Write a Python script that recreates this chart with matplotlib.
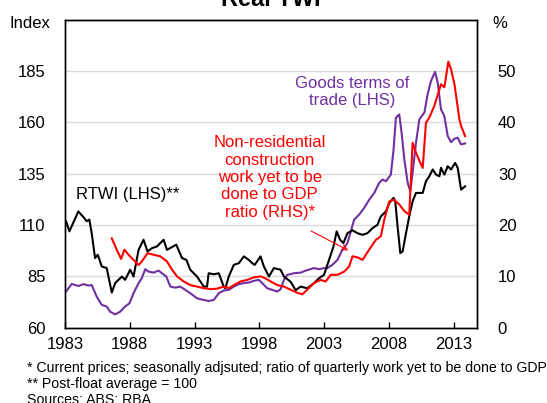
import matplotlib
matplotlib.use("Agg")
import matplotlib.pyplot as plt

plt.rcParams['font.family'] = ['Liberation Sans', 'DejaVu Sans']

# ---- data ----
rtwi_year = [1983.08, 1983.34, 1984.03, 1984.37, 1984.68, 1984.88, 1985.06, 1985.32, 1985.53, 1985.84,
             1986.22, 1986.61, 1986.87, 1987.39, 1987.64, 1988.03, 1988.29, 1988.68, 1989.06, 1989.37,
             1989.71, 1990.09, 1990.61, 1990.87, 1991.59, 1992.03, 1992.37, 1992.67, 1993.19, 1993.71,
             1993.96, 1994.09, 1994.48, 1994.87, 1995.25, 1995.38, 1995.64, 1996.03, 1996.42, 1996.80,
             1997.19, 1997.45, 1997.65, 1998.09, 1998.35, 1998.74, 1999.12, 1999.64, 1999.90, 2000.41,
             2000.80, 2001.19, 2001.70, 2002.22, 2002.61, 2002.99, 2003.38, 2003.72, 2003.97, 2004.23,
             2004.49, 2004.80, 2005.19, 2005.57, 2005.96, 2006.35, 2006.74, 2007.12, 2007.38, 2007.77,
             2008.03, 2008.36, 2008.49, 2008.67, 2008.88, 2009.06, 2009.32, 2009.57, 2009.83, 2010.09,
             2010.35, 2010.61, 2010.86, 2011.12, 2011.38, 2011.64, 2011.90, 2012.02, 2012.28, 2012.54,
             2012.80, 2013.11, 2013.31, 2013.57, 2013.88]
rtwi_val = [111.8, 106.9, 116.6, 114.2, 111.8, 112.6, 106.0, 93.9, 95.5, 89.8,
            89.0, 77.1, 81.7, 84.9, 83.3, 88.2, 84.9, 97.9, 102.8, 97.1,
            98.7, 99.5, 102.8, 97.9, 100.4, 93.9, 93.0, 88.2, 84.9, 80.0,
            80.0, 86.5, 86.0, 86.5, 80.0, 79.2, 84.9, 90.6, 91.4, 94.7,
            93.0, 91.4, 90.6, 94.7, 89.8, 84.9, 89.0, 88.2, 84.9, 82.4,
            78.3, 80.0, 79.2, 81.7, 84.1, 85.7, 93.0, 99.5, 106.9, 102.8,
            101.2, 106.0, 107.4, 106.0, 105.2, 106.0, 108.5, 110.1, 114.2, 116.6,
            120.7, 123.2, 121.5, 109.3, 96.3, 97.1, 106.0, 114.2, 121.5, 125.6,
            125.6, 125.6, 131.3, 133.7, 137.0, 134.5, 133.7, 137.8, 134.5, 138.6,
            137.0, 140.2, 137.8, 127.2, 128.8]

tot_year = [1983.08, 1983.52, 1984.03, 1984.42, 1984.81, 1985.06, 1985.45, 1985.84, 1986.22, 1986.48,
            1986.87, 1987.26, 1987.64, 1987.98, 1988.29, 1988.68, 1988.93, 1989.19, 1989.45, 1989.84,
            1990.22, 1990.48, 1990.82, 1991.13, 1991.51, 1991.90, 1992.29, 1992.67, 1993.19, 1993.71,
            1994.09, 1994.48, 1994.87, 1995.25, 1995.64, 1996.03, 1996.42, 1996.80, 1997.19, 1997.58,
            1997.96, 1998.22, 1998.61, 1999.00, 1999.38, 1999.64, 1999.90, 2000.15, 2000.67, 2001.19,
            2001.58, 2001.96, 2002.22, 2002.61, 2002.99, 2003.25, 2003.64, 2004.03, 2004.41, 2004.80,
            2005.32, 2005.70, 2006.09, 2006.48, 2006.87, 2007.25, 2007.51, 2007.77, 2008.15, 2008.36,
            2008.54, 2008.80, 2008.98, 2009.19, 2009.45, 2009.65, 2009.83, 2010.09, 2010.35, 2010.74,
            2010.99, 2011.25, 2011.56, 2011.77, 2012.02, 2012.28, 2012.54, 2012.80, 2013.06, 2013.31,
            2013.57, 2013.88]
tot_val = [77.6, 81.3, 80.3, 81.2, 80.5, 80.8, 75.1, 71.1, 70.3, 67.8,
           66.5, 67.8, 70.3, 71.9, 76.8, 81.7, 84.1, 88.5, 87.3, 86.8,
           87.8, 86.5, 84.9, 80.0, 79.5, 80.0, 78.4, 76.8, 74.3, 73.5,
           73.0, 73.5, 76.8, 78.1, 78.4, 80.0, 81.2, 81.7, 82.0, 82.8,
           83.3, 81.7, 79.2, 78.4, 77.6, 78.7, 83.3, 85.7, 86.5, 86.8,
           87.8, 88.5, 89.0, 88.5, 89.0, 89.0, 90.6, 93.0, 97.9, 101.2,
           112.6, 115.0, 118.3, 122.3, 125.6, 130.5, 132.1, 131.3, 134.5, 146.7,
           162.2, 163.8, 154.9, 141.9, 130.5, 126.4, 135.3, 150.0, 161.4, 164.7,
           173.6, 180.1, 184.5, 179.3, 166.3, 163.0, 153.3, 150.3, 152.0, 152.5,
           149.2, 149.7]

nres_year = [1986.61, 1986.99, 1987.33, 1987.59, 1987.90, 1988.29, 1988.68, 1988.93, 1989.37, 1989.84,
             1990.35, 1990.87, 1991.26, 1991.64, 1992.16, 1992.67, 1993.19, 1993.71, 1994.22, 1994.74,
             1995.25, 1995.64, 1996.03, 1996.54, 1997.06, 1997.58, 1998.09, 1998.48, 1998.87, 1999.38,
             1999.90, 2000.41, 2000.93, 2001.32, 2001.70, 2002.22, 2002.74, 2003.12, 2003.51, 2004.03,
             2004.54, 2004.93, 2005.19, 2005.57, 2005.96, 2006.22, 2006.48, 2006.99, 2007.38, 2007.64,
             2008.03, 2008.41, 2008.80, 2009.19, 2009.57, 2009.83, 2010.09, 2010.35, 2010.61, 2010.86,
             2011.12, 2011.51, 2012.02, 2012.28, 2012.59, 2012.80, 2013.06, 2013.44, 2013.57, 2013.88]
nres_val = [17.4, 15.2, 13.4, 15.2, 14.2, 13.2, 12.2, 12.9, 14.5, 14.2,
            13.9, 12.9, 11.3, 10.0, 9.0, 8.3, 8.0, 7.7, 7.5, 7.6,
            8.0, 7.7, 8.3, 9.0, 9.3, 9.8, 10.0, 9.6, 9.0, 8.3,
            8.0, 7.4, 6.8, 6.5, 7.4, 8.7, 9.3, 9.0, 10.3, 10.3,
            10.9, 11.9, 13.9, 13.7, 13.2, 14.2, 15.2, 17.1, 17.8, 21.0,
            24.6, 24.9, 24.0, 22.7, 22.0, 36.0, 34.1, 32.5, 31.1, 39.9,
            40.9, 43.2, 47.4, 46.8, 51.8, 50.3, 47.4, 40.6, 39.3, 37.3]

year_ticks = [1983, 1988, 1993, 1998, 2003, 2008, 2013]
left_ticks = [60, 85, 110, 135, 160, 185]
right_ticks = [0, 10, 20, 30, 40, 50]

PURPLE = '#7030A0'
RED = '#FF0000'

fig = plt.figure(figsize=(5.47, 4.03), dpi=100)
ax = fig.add_axes([65/547, 1-327.7/403, (477-65)/547, (327.7-19.5)/403])
ax2 = ax.twinx()

ax.set_xlim(1983, 2014.8)
ax.set_ylim(60, 210)
ax2.set_ylim(0, 60)

for v in left_ticks[1:] + [210]:
    ax.axhline(v, color='#D9D9D9', lw=1.0, zorder=0)

ax.plot(tot_year, tot_val, color=PURPLE, lw=1.5, zorder=3)
ax.plot(rtwi_year, rtwi_val, color='black', lw=1.5, zorder=4)
ax2.plot(nres_year, nres_val, color=RED, lw=1.5, zorder=5)

ax.set_xticks(year_ticks)
ax.set_xticklabels([str(y) for y in year_ticks])
ax.set_yticks(left_ticks)
ax2.set_yticks(right_ticks)
ax.tick_params(axis='x', direction='in', length=4, width=1, labelsize=12, pad=7)
ax.tick_params(axis='y', length=0, labelsize=12, pad=14)
ax2.tick_params(axis='y', length=0, labelsize=12, pad=15)

for a in (ax, ax2):
    for s in a.spines.values():
        s.set_color('black')
        s.set_linewidth(1.0)

ax.text(1983.83, 124.8, 'RTWI (LHS)**', color='black', fontsize=12, ha='left', va='center')
ax.text(2005.2, 174.6, 'Goods terms of\ntrade (LHS)', color=PURPLE, fontsize=12,
        ha='center', va='center', linespacing=1.2)
ax.text(1998.8, 133.1, 'Non-residential\nconstruction\nwork yet to be\ndone to GDP\nratio (RHS)*',
        color=RED, fontsize=12, ha='center', va='center', linespacing=1.2)
ax.annotate('', xy=(2005.06, 97.0), xytext=(2001.8, 107.7),
            arrowprops=dict(arrowstyle='->', color=RED, lw=0.8), zorder=6)

fig.text(270.5/547, 1-6/403, 'Real TWI', fontsize=17, fontweight='bold', ha='center', va='baseline')
fig.text(50/547, 1-24/403, 'Index', fontsize=12, ha='right', va='center')
fig.text(500/547, 1-24/403, '%', fontsize=12, ha='center', va='center')

fig.text(27/547, 1-368/403, '* Current prices; seasonally adjsuted; ratio of quarterly work yet to be done to GDP',
         fontsize=10.2, ha='left', va='center')
fig.text(27/547, 1-384/403, '** Post-float average = 100', fontsize=10.2, ha='left', va='center')
fig.text(27/547, 1-400/403, 'Sources: ABS; RBA', fontsize=10.2, ha='left', va='center')

fig.savefig('out.png', dpi=100)
